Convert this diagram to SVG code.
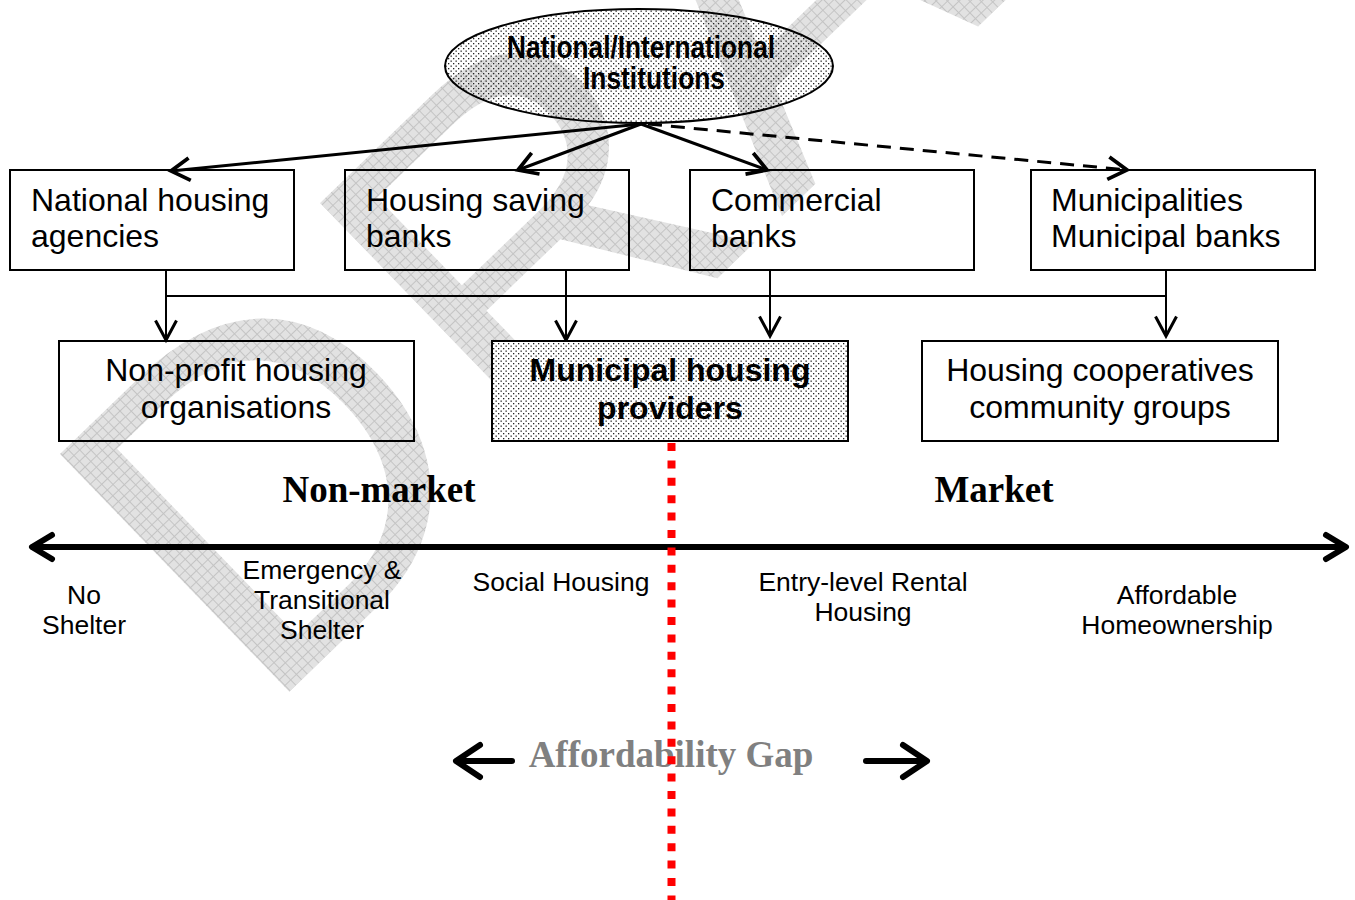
<svg xmlns="http://www.w3.org/2000/svg" width="1355" height="900" viewBox="0 0 1355 900">
  <style>
    .box { fill: none; stroke: #000; stroke-width: 2; }
    .lbl { font-family: "Liberation Sans", Arial, sans-serif; font-size: 32px; fill: #000; }
    .lblb { font-family: "Liberation Sans", Arial, sans-serif; font-size: 32px; font-weight: bold; fill: #000; }
    .scale { font-family: "Liberation Sans", Arial, sans-serif; font-size: 26.5px; fill: #000; text-anchor: middle; }
    .head { font-family: "Liberation Serif", "Times New Roman", serif; font-size: 37px; font-weight: bold; text-anchor: middle; }
    .thick { stroke: #000; stroke-width: 3; fill: none; }
    .thin { stroke: #000; stroke-width: 2; fill: none; }
    .axis { stroke: #000; stroke-width: 6; fill: none; stroke-linecap: round; stroke-linejoin: round; }
  </style>
  <defs>
    <pattern id="dots" width="5" height="5" patternUnits="userSpaceOnUse">
      <rect x="0.5" y="0.5" width="1.3" height="1.3" fill="#222"/>
      <rect x="3" y="3" width="1.3" height="1.3" fill="#222"/>
    </pattern>
    <pattern id="hatch" width="8" height="8" patternUnits="userSpaceOnUse">
      <rect width="8" height="8" fill="#e2e2e2"/>
      <path d="M0,0.5 H8 M0.5,0 V8" stroke="#c4c4c4" stroke-width="1"/>
    </pattern>
    <marker id="vThick" markerUnits="userSpaceOnUse" markerWidth="30" markerHeight="30" viewBox="-16 -12 20 24" refX="0" refY="0" orient="auto">
      <path d="M-15,-9 L0,0 L-15,9" fill="none" stroke="#000" stroke-width="3"/>
    </marker>
    <marker id="vThin" markerUnits="userSpaceOnUse" markerWidth="30" markerHeight="30" viewBox="-14 -10 16 20" refX="0" refY="0" orient="auto">
      <path d="M-13,-7 L0,0 L-13,7" fill="none" stroke="#000" stroke-width="2"/>
    </marker>
  </defs>

  <rect width="1355" height="900" fill="#fff"/>

  <!-- watermark -->
  <g id="watermark">
    <text x="0" y="0" transform="translate(261,719) rotate(-44)" font-family="Liberation Sans, Arial, sans-serif" font-size="480" letter-spacing="15" fill="url(#hatch)">DRAFT</text>
  </g>

  <!-- connectors -->
  <g id="connectors">
    <line class="thick" x1="641" y1="124" x2="171" y2="171" marker-end="url(#vThick)"/>
    <line class="thick" x1="641" y1="124" x2="518" y2="170" marker-end="url(#vThick)"/>
    <line class="thick" x1="641" y1="124" x2="767" y2="170" marker-end="url(#vThick)"/>
    <line class="thick" x1="648" y1="124" x2="1127" y2="170" stroke-dasharray="14 9" marker-end="url(#vThick)"/>

    <line class="thin" x1="166" y1="296" x2="1166" y2="296"/>
    <line class="thin" x1="166" y1="270" x2="166" y2="340" marker-end="url(#vThin)"/>
    <line class="thin" x1="566" y1="270" x2="566" y2="340" marker-end="url(#vThin)"/>
    <line class="thin" x1="770" y1="270" x2="770" y2="336" marker-end="url(#vThin)"/>
    <line class="thin" x1="1166" y1="270" x2="1166" y2="336" marker-end="url(#vThin)"/>
  </g>

  <!-- top ellipse -->
  <g id="institutions">
    <ellipse cx="639" cy="66" rx="194" ry="57" fill="url(#dots)" stroke="#000" stroke-width="2"/>
    <text class="lblb" x="641" y="58" font-size="26" text-anchor="middle" textLength="268" lengthAdjust="spacingAndGlyphs">National/International</text>
    <text class="lblb" x="654" y="89" font-size="26" text-anchor="middle" textLength="142" lengthAdjust="spacingAndGlyphs">Institutions</text>
  </g>

  <g id="national-agencies">
    <rect class="box" x="10" y="170" width="284" height="100"/>
    <text class="lbl" x="31" y="211">National housing</text>
    <text class="lbl" x="31" y="247">agencies</text>
  </g>
  <g id="saving-banks">
    <rect class="box" x="345" y="170" width="284" height="100"/>
    <text class="lbl" x="366" y="211">Housing saving</text>
    <text class="lbl" x="366" y="247">banks</text>
  </g>
  <g id="commercial-banks">
    <rect class="box" x="690" y="170" width="284" height="100"/>
    <text class="lbl" x="711" y="211">Commercial</text>
    <text class="lbl" x="711" y="247">banks</text>
  </g>
  <g id="municipalities">
    <rect class="box" x="1031" y="170" width="284" height="100"/>
    <text class="lbl" x="1051" y="211">Municipalities</text>
    <text class="lbl" x="1051" y="247">Municipal banks</text>
  </g>

  <g id="non-profit">
    <rect class="box" x="59" y="341" width="355" height="100"/>
    <text class="lbl" x="236" y="381" text-anchor="middle">Non-profit housing</text>
    <text class="lbl" x="236" y="418" text-anchor="middle">organisations</text>
  </g>
  <g id="municipal-providers">
    <rect x="492" y="341" width="356" height="100" fill="#fff"/>
    <rect x="492" y="341" width="356" height="100" fill="url(#dots)" stroke="#000" stroke-width="2"/>
    <text class="lblb" x="670" y="381" text-anchor="middle">Municipal housing</text>
    <text class="lblb" x="670" y="419" text-anchor="middle">providers</text>
  </g>
  <g id="cooperatives">
    <rect class="box" x="922" y="341" width="356" height="100"/>
    <text class="lbl" x="1100" y="381" text-anchor="middle">Housing cooperatives</text>
    <text class="lbl" x="1100" y="418" text-anchor="middle">community groups</text>
  </g>

  <!-- market headings -->
  <text class="head" x="379" y="502" fill="#000">Non-market</text>
  <text class="head" x="994" y="502" fill="#000">Market</text>

  <!-- housing continuum axis -->
  <g id="continuum">
    <line class="axis" x1="33" y1="547" x2="1344" y2="547"/>
    <path class="axis" d="M52,535 L32,547 L52,559"/>
    <path class="axis" d="M1326,535 L1346,547 L1326,559"/>
  </g>

  <g id="continuum-labels">
    <text class="scale" x="84" y="604">No</text>
    <text class="scale" x="84" y="634">Shelter</text>
    <text class="scale" x="322" y="579">Emergency &amp;</text>
    <text class="scale" x="322" y="609">Transitional</text>
    <text class="scale" x="322" y="639">Shelter</text>
    <text class="scale" x="561" y="591">Social Housing</text>
    <text class="scale" x="863" y="591">Entry-level Rental</text>
    <text class="scale" x="863" y="621">Housing</text>
    <text class="scale" x="1177" y="604">Affordable</text>
    <text class="scale" x="1177" y="634">Homeownership</text>
  </g>

  <!-- affordability gap -->
  <g id="gap">
    <text class="head" x="671" y="767" fill="#808080">Affordability Gap</text>
    <line class="axis" x1="512" y1="761" x2="460" y2="761" stroke-linecap="butt"/>
    <path class="axis" d="M480,745 L456,761 L480,777"/>
    <line class="axis" x1="866" y1="761" x2="922" y2="761" stroke-linecap="butt"/>
    <path class="axis" d="M903,745 L927,761 L903,777"/>
  </g>

  <!-- divider -->
  <line x1="671.5" y1="443" x2="671.5" y2="900" stroke="#ff0000" stroke-width="8" stroke-dasharray="8 9.4"/>
</svg>
